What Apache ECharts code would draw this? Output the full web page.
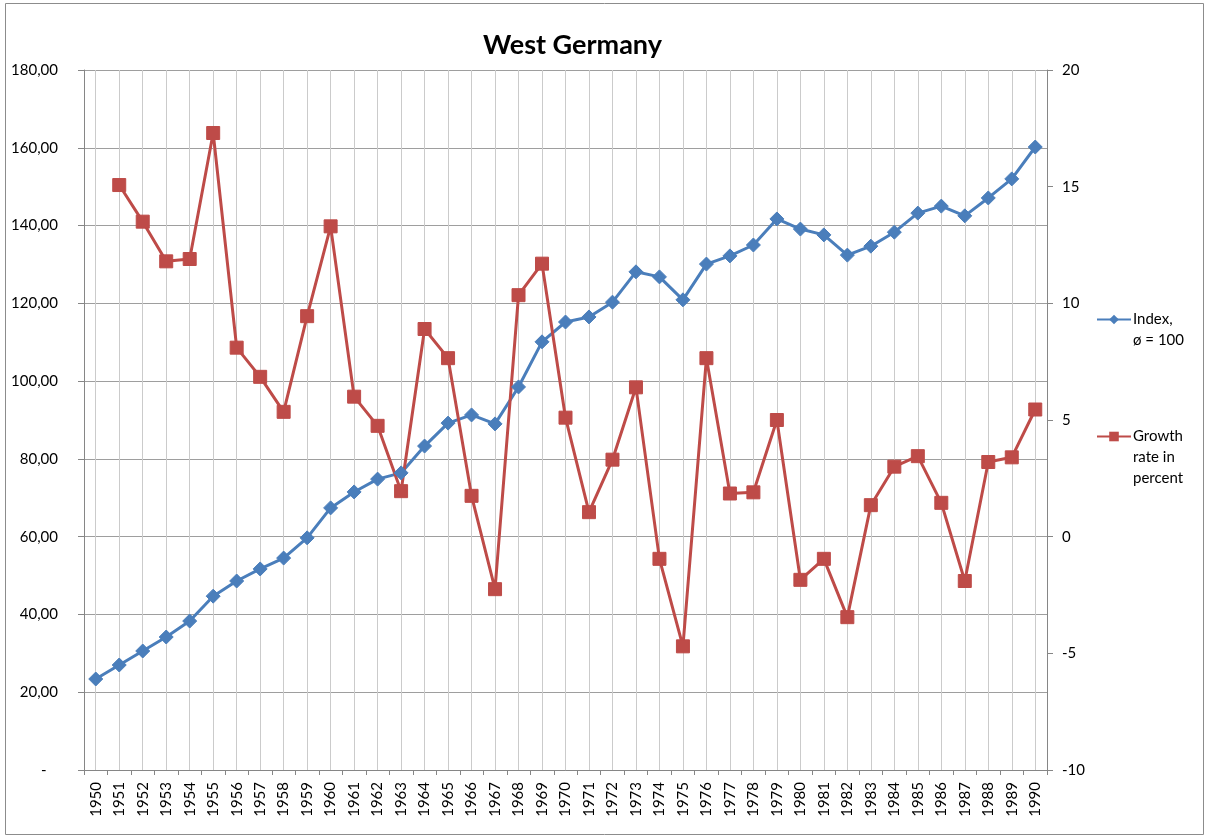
<!DOCTYPE html>
<html>
<head>
<meta charset="utf-8">
<script src="https://cdn.jsdelivr.net/npm/echarts@6/dist/echarts.min.js"></script>
<style>
  html, body { margin: 0; padding: 0; background: #fff; }
  #chart { width: 1205px; height: 836px; }
</style>
</head>
<body>
<div id="chart"></div>
<script>
// Datos
const years = [];
for (let y = 1950; y <= 1990; y++) years.push(String(y));

const indexValues = [
  23.4, 27.0, 30.6, 34.2, 38.3, 44.7, 48.6, 51.7, 54.5, 59.7,
  67.4, 71.5, 74.8, 76.4, 83.3, 89.2, 91.3, 89.0, 98.5, 110.1,
  115.2, 116.5, 120.3, 128.1, 126.8, 120.9, 130.1, 132.2, 135.0, 141.7,
  139.1, 137.6, 132.4, 134.7, 138.3, 143.2, 145.0, 142.5, 147.1, 152.0,
  160.2
];

const growthValues = [
  null, 15.07, 13.5, 11.8, 11.9, 17.3, 8.1, 6.85, 5.35, 9.45,
  13.3, 6.0, 4.75, 1.95, 8.9, 7.65, 1.75, -2.25, 10.35, 11.7,
  5.1, 1.05, 3.3, 6.4, -0.95, -4.7, 7.65, 1.85, 1.9, 5.0,
  -1.85, -0.95, -3.45, 1.35, 3.0, 3.45, 1.45, -1.9, 3.2, 3.4,
  5.45
];

const nameIndex = 'Index, ø = 100';
const nameGrowth = 'Growth rate in percent';

const FONT = 'Lato, "Open Sans", sans-serif';
const BLUE = '#4A7EBB';
const RED = '#BE4B48';

const chart = echarts.init(document.getElementById('chart'), null, { renderer: 'canvas' });

const option = {
  animation: false,
  backgroundColor: '#fff',
  title: {
    text: 'West Germany',
    left: 478,
    top: 27,
    textStyle: { fontFamily: FONT, fontSize: 27, fontWeight: 'bold', color: '#000' }
  },
  legend: [
    {
      data: [nameIndex],
      orient: 'vertical',
      left: 1091,
      top: 283,
      itemWidth: 34,
      itemHeight: 12,
      itemGap: 0,
      formatter: function() { return '\nIndex,\nø = 100'; },
      textStyle: { fontFamily: FONT, fontSize: 15, color: '#000', lineHeight: 21, padding: [0, 0, 0, -3] }
    },
    {
      data: [nameGrowth],
      orient: 'vertical',
      left: 1091,
      top: 379,
      itemWidth: 34,
      itemHeight: 12,
      itemGap: 0,
      formatter: function() { return '\n\nGrowth\nrate in\npercent'; },
      textStyle: { fontFamily: FONT, fontSize: 15, color: '#000', lineHeight: 21, padding: [0, 0, 0, -3] }
    }
  ],
  grid: { left: 84, right: 158, top: 70, bottom: 66, containLabel: false },
  xAxis: {
    type: 'category',
    data: years,
    boundaryGap: true,
    axisLine: { lineStyle: { color: '#868686' } },
    axisTick: { show: true, length: 5, lineStyle: { color: '#868686' } },
    axisLabel: { rotate: 90, interval: 0, margin: 12, fontFamily: FONT, fontSize: 15, color: '#000' },
    splitLine: { show: true, alignWithLabel: true, interval: 0, lineStyle: { color: '#cbcbcb', width: 1 } }
  },
  yAxis: [
    {
      type: 'value',
      min: 0,
      max: 180,
      interval: 20,
      axisLine: { show: true, lineStyle: { color: '#868686' } },
      axisTick: { show: true, length: 6, lineStyle: { color: '#868686' } },
      axisLabel: {
        margin: 26,
        fontFamily: FONT,
        fontSize: 15,
        color: '#000',
        formatter: function(v) {
          if (v === 0) return '-   ';
          return v.toFixed(2).replace('.', ',');
        }
      },
      splitLine: { show: true, lineStyle: { color: '#9e9e9e', width: 1 } }
    },
    {
      type: 'value',
      min: -10,
      max: 20,
      interval: 5,
      position: 'right',
      axisLine: { show: true, lineStyle: { color: '#868686' } },
      axisTick: { show: true, length: 6, lineStyle: { color: '#868686' } },
      axisLabel: { margin: 15, fontFamily: FONT, fontSize: 15, color: '#000' },
      splitLine: { show: false }
    }
  ],
  series: [
    {
      name: nameIndex,
      type: 'line',
      yAxisIndex: 0,
      data: indexValues,
      symbol: 'diamond',
      symbolSize: 14,
      showAllSymbol: true,
      lineStyle: { color: BLUE, width: 3 },
      itemStyle: { color: BLUE, borderColor: BLUE }
    },
    {
      name: nameGrowth,
      type: 'line',
      yAxisIndex: 1,
      data: growthValues,
      symbol: 'rect',
      symbolSize: 13,
      showAllSymbol: true,
      lineStyle: { color: RED, width: 3 },
      itemStyle: { color: RED, borderColor: RED }
    }
  ],
  graphic: [
    {
      type: 'rect',
      shape: { x: 5.5, y: 3.5, width: 1198, height: 831 },
      style: { fill: 'none', stroke: '#8c8c8c', lineWidth: 1 },
      silent: true
    }
  ]
};

chart.setOption(option);

window.addEventListener('resize', function() {
  if (chart) chart.resize();
});
</script>
</body>
</html>
